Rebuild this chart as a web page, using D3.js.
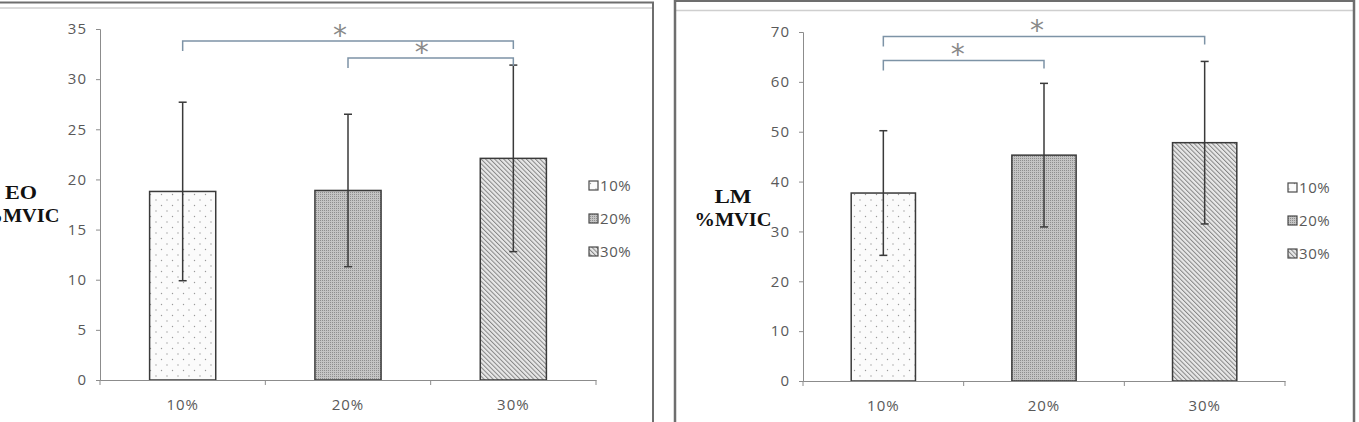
<!DOCTYPE html>
<html>
<head>
<meta charset="utf-8">
<script src="https://cdn.jsdelivr.net/npm/d3@7"></script>
<style>
  body { margin: 0; background: #fff; }
  svg { display: block; }
  .tick text { font-family: "Open Sans", sans-serif; fill: #595959; }
</style>
</head>
<body>
<svg width="1359" height="422"></svg>
<script>
// categories (intensity)
var categories = ["10%", "20%", "30%"];

// left chart: EO %MVIC
var eoMean = [18.8, 18.9, 22.1],
    eoSd = [8.9, 7.6, 9.3],
    eoTicks = [0, 5, 10, 15, 20, 25, 30, 35];

// right chart: LM %MVIC
var lmMean = [37.7, 45.3, 47.8],
    lmSd = [12.5, 14.4, 16.3],
    lmTicks = [0, 10, 20, 30, 40, 50, 60, 70];

// significance brackets: [from, to]
var eoSig = [["10%", "30%"], ["20%", "30%"]],
    lmSig = [["10%", "30%"], ["10%", "20%"]];

var svg = d3.select("svg");
var defs = svg.append("defs");

// fill patterns
var p1 = defs.append("pattern").attr("id", "dots").attr("patternUnits", "userSpaceOnUse")
    .attr("width", 11).attr("height", 11);
p1.append("rect").attr("width", 11).attr("height", 11).attr("fill", "#fbfbfb");
p1.append("circle").attr("cx", 2).attr("cy", 2).attr("r", 0.7).attr("fill", "#9a9a9a");
p1.append("circle").attr("cx", 7.5).attr("cy", 7.5).attr("r", 0.7).attr("fill", "#9a9a9a");

var p2 = defs.append("pattern").attr("id", "stipple").attr("patternUnits", "userSpaceOnUse")
    .attr("width", 2).attr("height", 2);
p2.append("rect").attr("width", 2).attr("height", 2).attr("fill", "#c4c4c4");
p2.append("rect").attr("width", 1).attr("height", 1).attr("fill", "#8e8e8e");

var p3 = defs.append("pattern").attr("id", "hatch").attr("patternUnits", "userSpaceOnUse")
    .attr("width", 3.2).attr("height", 3.2).attr("patternTransform", "rotate(-45)");
p3.append("rect").attr("width", 3.2).attr("height", 3.2).attr("fill", "#e8e8e8");
p3.append("rect").attr("width", 1).attr("height", 3.2).attr("fill", "#858585");

var fills = ["url(#dots)", "url(#stipple)", "url(#hatch)"];

// panel borders
svg.append("line").attr("x1", 0).attr("x2", 654).attr("y1", 2.5).attr("y2", 2.5)
  .attr("stroke", "#6e6e6e").attr("stroke-width", 2);
svg.append("line").attr("x1", 0).attr("x2", 653).attr("y1", 8).attr("y2", 8)
  .attr("stroke", "#cfcfcf").attr("stroke-width", 1.5);
svg.append("line").attr("x1", 653).attr("x2", 653).attr("y1", 2).attr("y2", 422)
  .attr("stroke", "#6e6e6e").attr("stroke-width", 2);

svg.append("line").attr("x1", 674).attr("x2", 1355).attr("y1", 1).attr("y2", 1)
  .attr("stroke", "#6e6e6e").attr("stroke-width", 2);
svg.append("line").attr("x1", 675).attr("x2", 1354).attr("y1", 10.5).attr("y2", 10.5)
  .attr("stroke", "#cfcfcf").attr("stroke-width", 1.5);
svg.append("line").attr("x1", 675).attr("x2", 675).attr("y1", 0).attr("y2", 422)
  .attr("stroke", "#6e6e6e").attr("stroke-width", 2.5);
svg.append("line").attr("x1", 1354).attr("x2", 1354).attr("y1", 0).attr("y2", 422)
  .attr("stroke", "#6e6e6e").attr("stroke-width", 2.5);

function drawChart(cfg) {
  var g = svg.append("g");

  var x = d3.scaleBand().domain(categories).range([cfg.left, cfg.right]).paddingInner(0.6).paddingOuter(0.3);
  var y = d3.scaleLinear().domain([0, cfg.max]).range([cfg.bottom, cfg.top]);

  // y axis
  var ya = g.append("g").attr("transform", "translate(" + cfg.left + ",0)")
    .call(d3.axisLeft(y).tickValues(cfg.ticks).tickSize(4).tickPadding(9));
  ya.select(".domain").attr("stroke", "#8c8c8c");
  ya.selectAll(".tick line").attr("stroke", "#8c8c8c");
  ya.selectAll(".tick text").attr("font-size", 15).attr("letter-spacing", 1);

  // bars
  g.selectAll("rect.bar").data(cfg.mean).enter().append("rect")
    .attr("class", "bar")
    .attr("x", function(d, i) { return x(categories[i]); })
    .attr("y", function(d) { return y(d); })
    .attr("width", x.bandwidth())
    .attr("height", function(d) { return y(0) - y(d); })
    .attr("fill", function(d, i) { return fills[i]; })
    .attr("stroke", "#3a3a3a").attr("stroke-width", 1.5);

  // x axis
  var xa = g.append("g").attr("transform", "translate(0," + cfg.bottom + ")")
    .call(d3.axisBottom(x).tickSize(0).tickPadding(19));
  xa.select(".domain").attr("stroke", "#8c8c8c");
  xa.selectAll(".tick text").attr("font-size", 15).attr("letter-spacing", 1);
  var step = x.step();
  var edges = d3.range(categories.length + 1).map(function(i) { return cfg.left + i * step; });
  xa.selectAll("line.sep").data(edges).enter().append("line").attr("class", "sep")
    .attr("x1", function(d) { return d; }).attr("x2", function(d) { return d; })
    .attr("y1", 0).attr("y2", 5).attr("stroke", "#8c8c8c");

  // error bars
  var cx = function(i) { return x(categories[i]) + x.bandwidth() / 2; };
  cfg.mean.forEach(function(m, i) {
    var hi = y(m + cfg.sd[i]), lo = y(m - cfg.sd[i]);
    g.append("line").attr("x1", cx(i)).attr("x2", cx(i)).attr("y1", hi).attr("y2", lo)
      .attr("stroke", "#3a3a3a").attr("stroke-width", 1.5);
    [hi, lo].forEach(function(v) {
      g.append("line").attr("x1", cx(i) - 4).attr("x2", cx(i) + 4).attr("y1", v).attr("y2", v)
        .attr("stroke", "#3a3a3a").attr("stroke-width", 1.5);
    });
  });

  // significance brackets
  cfg.sig.forEach(function(s, k) {
    var x1 = x(s[0]) + x.bandwidth() / 2, x2 = x(s[1]) + x.bandwidth() / 2;
    var by = y(cfg.sigLevel[k]);
    g.append("path")
      .attr("d", "M" + x1 + "," + (by + 10) + "V" + by + "H" + x2 + "V" + (by + 8))
      .attr("fill", "none").attr("stroke", "#7d93a6").attr("stroke-width", 1.5);
    g.append("text").attr("x", (x1 + x2) / 2 + cfg.starDx[k]).attr("y", by + 4)
      .attr("text-anchor", "middle")
      .attr("font-family", "DejaVu Sans, sans-serif").attr("font-size", 28)
      .attr("fill", "#8a8a8a").text("*");
  });

  // legend
  categories.forEach(function(c, i) {
    var ly = cfg.legendY + i * 33;
    g.append("rect").attr("x", cfg.legendX).attr("y", ly - 10).attr("width", 9).attr("height", 9)
      .attr("fill", fills[i]).attr("stroke", "#4a4a4a").attr("stroke-width", 1.2);
    g.append("text").attr("x", cfg.legendX + 11).attr("y", ly)
      .attr("font-family", "'Open Sans', sans-serif").attr("font-size", 15)
      .attr("letter-spacing", 0.6)
      .attr("fill", "#595959").text(c);
  });

  // y label
  g.append("text").attr("x", cfg.labelX).attr("y", cfg.labelY).attr("text-anchor", "middle")
    .attr("font-family", "'Liberation Serif', serif").attr("font-weight", "bold")
    .attr("font-size", 19).attr("fill", "#111")
    .attr("textLength", cfg.labelW).attr("lengthAdjust", "spacingAndGlyphs").text(cfg.label);
  g.append("text").attr("x", cfg.labelX).attr("y", cfg.labelY + 23).attr("text-anchor", "middle")
    .attr("font-family", "'Liberation Serif', serif").attr("font-weight", "bold")
    .attr("font-size", 19).attr("fill", "#111")
    .attr("textLength", 77).attr("lengthAdjust", "spacingAndGlyphs").text("%MVIC");
}

drawChart({
  left: 100, right: 596, top: 29, bottom: 380, max: 35, ticks: eoTicks,
  mean: eoMean, sd: eoSd, sig: eoSig, sigLevel: [33.8, 32.1], starDx: [-8, -9],
  legendX: 589, legendY: 191, label: "EO", labelW: 32, labelX: 21, labelY: 199
});

drawChart({
  left: 803, right: 1285, top: 32, bottom: 381, max: 70, ticks: lmTicks,
  mean: lmMean, sd: lmSd, sig: lmSig, sigLevel: [69.1, 64.3], starDx: [-7, -6],
  legendX: 1288, legendY: 193, label: "LM", labelW: 37, labelX: 733, labelY: 203
});
</script>
</body>
</html>
